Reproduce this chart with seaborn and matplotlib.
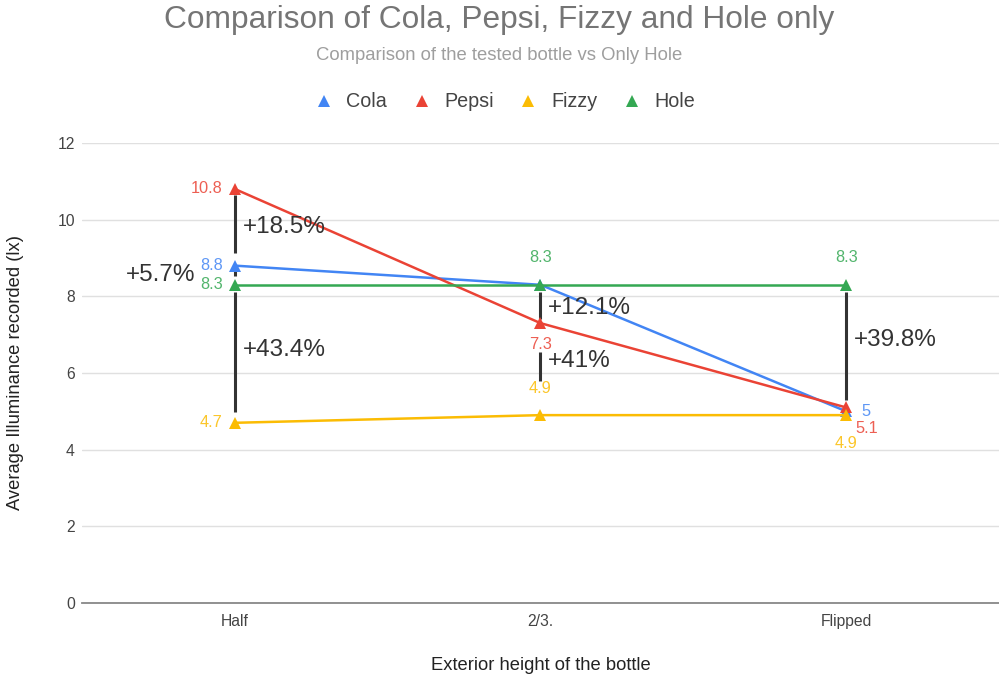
import matplotlib
matplotlib.use("Agg")
import matplotlib.pyplot as plt
import seaborn as sns
import pandas as pd

# Measured illuminance per bottle height
heights = ["Half", "2/3.", "Flipped"]
cola = [8.8, 8.3, 5.0]
pepsi = [10.8, 7.3, 5.1]
fizzy = [4.7, 4.9, 4.9]
hole = [8.3, 8.3, 8.3]
series_names = ["Cola", "Pepsi", "Fizzy", "Hole"]
palette = ["#4285F4", "#EA4335", "#FBBC04", "#34A853"]
y_ticks = [0, 2, 4, 6, 8, 10, 12]

sns.set_theme(style="white")
plt.rcParams["font.family"] = ["Liberation Sans", "DejaVu Sans"]

frames = []
for name, vals in zip(series_names, [cola, pepsi, fizzy, hole]):
    frames.append(pd.DataFrame({"height": heights, "pos": range(len(heights)),
                                "value": vals, "series": name}))
df = pd.concat(frames, ignore_index=True)

fig = plt.figure(figsize=(9.99, 6.75), dpi=100)
ax = fig.add_axes([0.082, 0.1067, 0.918, 0.6815])

sns.lineplot(data=df, x="pos", y="value", hue="series", hue_order=series_names,
             palette=palette, marker="^", markersize=8, markeredgewidth=0,
             linewidth=1.8, ax=ax, legend=False, zorder=3)

ax.set_xlim(-0.5, 2.5)
ax.set_ylim(0, 12)
ax.set_yticks(y_ticks)
ax.set_yticklabels([str(t) for t in y_ticks])
ax.set_xticks(range(len(heights)))
ax.set_xticklabels(heights)
ax.tick_params(axis="both", length=0, labelsize=11.3, labelcolor="#444444")
ax.tick_params(axis="y", pad=5)
ax.tick_params(axis="x", pad=8)
ax.grid(axis="y", color="#e0e0e0", linewidth=1)
ax.set_axisbelow(True)
for s in ["top", "right", "left"]:
    ax.spines[s].set_visible(False)
ax.spines["bottom"].set_color("#888888")
ax.spines["bottom"].set_linewidth(1.3)
ax.set_xlabel("Exterior height of the bottle", fontsize=13.2, color="#222222", labelpad=20)
ax.set_ylabel("Average Illuminance recorded (lx)", fontsize=13.2, color="#222222", labelpad=24)

# Value labels
lab = dict(fontsize=11.8, alpha=0.85)
c = dict(zip(series_names, palette))
ax.text(-0.04, pepsi[0], "10.8", color=c["Pepsi"], ha="right", va="center", **lab)
ax.text(-0.04, cola[0], "8.8", color=c["Cola"], ha="right", va="center", **lab)
ax.text(-0.04, hole[0], "8.3", color=c["Hole"], ha="right", va="center", **lab)
ax.text(-0.04, fizzy[0], "4.7", color=c["Fizzy"], ha="right", va="center", **lab)
ax.text(1, hole[1] + 0.72, "8.3", color=c["Hole"], ha="center", va="center", **lab)
ax.text(1, pepsi[1] - 0.55, "7.3", color=c["Pepsi"], ha="center", va="center", **lab)
ax.text(1, fizzy[1] + 0.7, "4.9", color=c["Fizzy"], ha="center", va="center", **lab)
ax.text(2, hole[2] + 0.72, "8.3", color=c["Hole"], ha="center", va="center", **lab)
ax.text(2.05, cola[2], "5", color=c["Cola"], ha="left", va="center", **lab)
ax.text(2.03, pepsi[2] - 0.55, "5.1", color=c["Pepsi"], ha="left", va="center", **lab)
ax.text(2, fizzy[2] - 0.75, "4.9", color=c["Fizzy"], ha="center", va="center", **lab)

# Difference brackets
bc = "#333333"
bw = 2.2
ax.plot([0, 0], [10.65, 9.13], color=bc, lw=bw, zorder=2, solid_capstyle="butt")
ax.plot([0, 0], [8.68, 8.52], color=bc, lw=bw, zorder=2, solid_capstyle="butt")
ax.plot([0, 0], [8.1, 4.98], color=bc, lw=bw, zorder=2, solid_capstyle="butt")
ax.plot([1, 1], [8.1, 7.4], color=bc, lw=bw, zorder=2, solid_capstyle="butt")
ax.plot([1, 1], [6.55, 5.8], color=bc, lw=bw, zorder=2, solid_capstyle="butt")
ax.plot([2, 2], [8.1, 5.3], color=bc, lw=bw, zorder=2, solid_capstyle="butt")

pc = dict(fontsize=17.5, color="#333333", va="center")
ax.text(0.025, 9.8, "+18.5%", ha="left", **pc)
ax.text(-0.13, 8.55, "+5.7%", ha="right", **pc)
ax.text(0.025, 6.6, "+43.4%", ha="left", **pc)
ax.text(1.025, 7.7, "+12.1%", ha="left", **pc)
ax.text(1.025, 6.3, "+41%", ha="left", **pc)
ax.text(2.025, 6.85, "+39.8%", ha="left", **pc)

# Legend
handles = [plt.Line2D([], [], marker="^", linestyle="none", color=col,
                      markersize=8, markeredgewidth=0) for col in palette]
fig.legend(handles, series_names, loc="center", bbox_to_anchor=(0.5, 0.849), ncol=4,
           frameon=False, fontsize=14.2, handletextpad=0.15, columnspacing=0.75,
           labelcolor="#444444")

fig.text(0.5, 0.97, "Comparison of Cola, Pepsi, Fizzy and Hole only", ha="center",
         va="center", fontsize=22.8, color="#757575")
fig.text(0.5, 0.918, "Comparison of the tested bottle vs Only Hole", ha="center",
         va="center", fontsize=13.3, color="#9e9e9e")

fig.savefig("out.png", dpi=100)
